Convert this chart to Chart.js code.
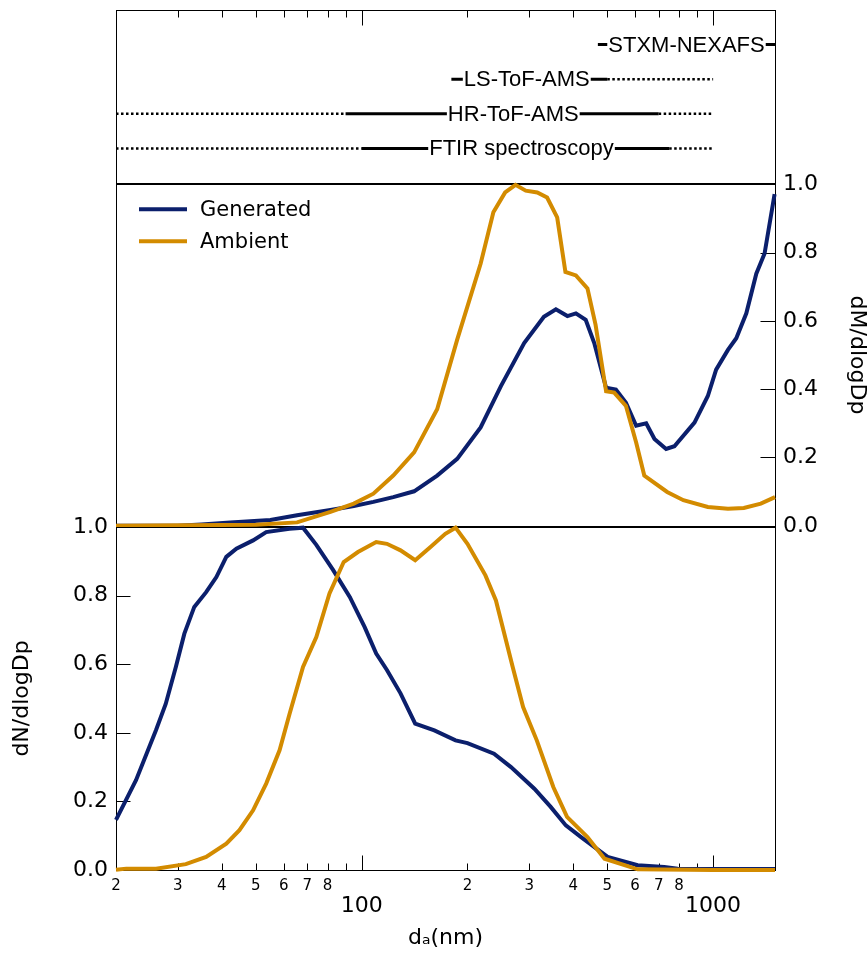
<!DOCTYPE html>
<html>
<head>
<meta charset="utf-8">
<script src="https://cdn.jsdelivr.net/npm/chart.js@4.4.1/dist/chart.umd.min.js"></script>
<style>
  body { margin: 0; background: #fff; }
  #wrap { position: relative; width: 868px; height: 955px; }
  #wrap canvas { position: absolute; left: 0; }
</style>
</head>
<body>
<div id="wrap">
  <canvas id="instChart" width="868" height="190" style="top:0"></canvas>
  <canvas id="massChart" width="868" height="384" style="top:163px"></canvas>
  <canvas id="numChart" width="868" height="450" style="top:505px"></canvas>
</div>
<script>
// x axis (diameter, nm)
const xMin = 20, xMax = 1500;
const xTicks = [20, 30, 40, 50, 60, 70, 80, 90, 100, 200, 300, 400, 500, 600, 700, 800, 900, 1000];
const xTickLabels = ['2', '3', '4', '5', '6', '7', '8', '', '100', '2', '3', '4', '5', '6', '7', '8', '', '1000'];
const yTicks = [0, 0.2, 0.4, 0.6, 0.8, 1.0];

// instrument size ranges (top panel)
const instruments = ['STXM-NEXAFS', 'LS-ToF-AMS', 'HR-ToF-AMS', 'FTIR spectroscopy'];
const instLevel = [4, 3, 2, 1];
const solidRange = [[470, 1500], [180, 500], [90, 700], [100, 750]];
const dottedRange = [[], [[500, 1000]], [[20, 90], [700, 1000]], [[20, 100], [750, 1000]]];
const labelAt = [840, 295, 270, 285];

// dM/dlogDp (middle panel)
const dMGenD = [20, 30, 35, 42.3, 55, 65.5, 81.5, 95, 108, 123, 141, 164, 187, 218, 249, 290, 330, 357, 385, 407, 434, 459, 496, 529, 565, 604, 645, 681, 735, 776, 885, 966, 1020, 1102, 1164, 1243, 1327, 1401, 1496];
const dMGen = [0, 0, 0.004, 0.01, 0.017, 0.031, 0.046, 0.058, 0.07, 0.084, 0.101, 0.147, 0.196, 0.288, 0.409, 0.535, 0.612, 0.634, 0.614, 0.622, 0.603, 0.535, 0.404, 0.399, 0.36, 0.293, 0.3, 0.254, 0.225, 0.233, 0.302, 0.38, 0.457, 0.515, 0.549, 0.622, 0.738, 0.797, 0.971];
const dMAmbD = [20, 50, 65.5, 81.5, 95, 108, 123, 141, 164, 187, 218, 237, 256, 274, 293, 316, 337, 360, 380, 407, 439, 463, 496, 523, 565, 604, 637, 740, 823, 966, 1102, 1223, 1367, 1500];
const dMAmb = [0, 0.003, 0.01, 0.041, 0.065, 0.094, 0.147, 0.215, 0.341, 0.545, 0.767, 0.918, 0.976, 0.998, 0.981, 0.976, 0.961, 0.903, 0.743, 0.733, 0.695, 0.588, 0.394, 0.39, 0.351, 0.244, 0.147, 0.099, 0.075, 0.055, 0.05, 0.052, 0.065, 0.084];

// dN/dlogDp (bottom panel)
const dNGenD = [20, 22.8, 26, 27.7, 29.6, 31.3, 33.4, 36.1, 38.6, 41.2, 44, 49.1, 53.5, 62.3, 68.1, 74.3, 82.9, 92.5, 102, 110, 118, 129, 142, 161, 185, 200, 238, 266, 310, 345, 381, 421, 501, 610, 726, 793, 1000, 1500];
const dNGen = [0.146, 0.262, 0.408, 0.484, 0.592, 0.689, 0.767, 0.81, 0.854, 0.913, 0.937, 0.961, 0.985, 0.995, 0.998, 0.948, 0.875, 0.796, 0.708, 0.631, 0.583, 0.515, 0.427, 0.407, 0.378, 0.37, 0.339, 0.3, 0.237, 0.184, 0.13, 0.096, 0.038, 0.014, 0.009, 0.004, 0.003, 0.003];
const dNAmbD = [20, 21.4, 26, 31.6, 36.1, 41.2, 44.9, 49.1, 53.5, 58.4, 62.4, 68.1, 74.3, 81, 88.9, 97.6, 110, 118, 129, 142, 157, 173, 185, 200, 225, 241, 269, 288, 315, 351, 384, 439, 491, 610, 1000, 1500];
const dNAmb = [0.001, 0.004, 0.004, 0.017, 0.038, 0.077, 0.116, 0.174, 0.252, 0.349, 0.456, 0.592, 0.679, 0.806, 0.898, 0.927, 0.956, 0.951, 0.932, 0.903, 0.942, 0.98, 0.998, 0.951, 0.859, 0.786, 0.592, 0.475, 0.378, 0.242, 0.155, 0.096, 0.033, 0.002, 0, 0];

const navy = '#0b1f6c';
const orange = '#d38b00';
const FONT = 'DejaVu Sans';

Chart.defaults.font.family = FONT;
Chart.defaults.color = '#000';

const isDecade = v => Math.abs(Math.log10(v) - Math.round(Math.log10(v))) < 1e-9;
const pts = (xs, ys) => xs.map((x, i) => ({x: x, y: ys[i]}));

// frame box plus inward tick marks
const frame = {
  id: 'frame',
  beforeDatasetsDraw(chart, args, o) {
    const {ctx, chartArea: a} = chart;
    // same pixel rows/cols for every panel so shared edges overlap exactly
    const L = Math.round(a.left) + 0.5, R = Math.round(a.right) + 0.5;
    const T = Math.round(a.top) + 0.5, B = Math.round(a.bottom) + 0.5;
    ctx.save();
    ctx.strokeStyle = '#000';
    ctx.lineWidth = 1;
    ctx.strokeRect(L, T, R - L, B - T);
    (o.marks || []).forEach(m => {
      const s = chart.scales[m.scale];
      m.values.forEach(v => {
        const p = Math.round(s.getPixelForValue(v)) + 0.5;
        const len = typeof m.len === 'function' ? m.len(v) : m.len;
        ctx.beginPath();
        if (m.edge === 'top') { ctx.moveTo(p, T); ctx.lineTo(p, T + len); }
        if (m.edge === 'bottom') { ctx.moveTo(p, B); ctx.lineTo(p, B - len); }
        if (m.edge === 'left') { ctx.moveTo(L, p); ctx.lineTo(L + len, p); }
        if (m.edge === 'right') { ctx.moveTo(R, p); ctx.lineTo(R - len, p); }
        ctx.stroke();
      });
    });
    ctx.restore();
  }
};

// instrument names sitting on their range lines
const rangeLabels = {
  id: 'rangeLabels',
  afterDatasetsDraw(chart) {
    const {ctx} = chart;
    const xs = chart.scales.x, ys = chart.scales.y;
    ctx.save();
    ctx.font = '22px "Liberation Sans"';
    ctx.textAlign = 'center';
    ctx.textBaseline = 'middle';
    instruments.forEach((name, i) => {
      const x = xs.getPixelForValue(labelAt[i]);
      const y = ys.getPixelForValue(instLevel[i]);
      const w = ctx.measureText(name).width;
      ctx.fillStyle = '#fff';
      ctx.fillRect(x - w / 2 - 1, y - 10, w + 2, 20);
      ctx.fillStyle = '#000';
      ctx.fillText(name, x, y + 1);
    });
    ctx.restore();
  }
};

// legend drawn as line samples in the upper left of the middle panel
const lineLegend = {
  id: 'lineLegend',
  afterDatasetsDraw(chart) {
    const {ctx, chartArea: a} = chart;
    ctx.save();
    ctx.font = '21px "' + FONT + '"';
    ctx.textBaseline = 'middle';
    chart.data.datasets.forEach((ds, i) => {
      const y = a.top + 25 + i * 32;
      ctx.strokeStyle = ds.borderColor;
      ctx.lineWidth = 4;
      ctx.beginPath();
      ctx.moveTo(a.left + 23, y);
      ctx.lineTo(a.left + 71, y);
      ctx.stroke();
      ctx.fillStyle = '#000';
      ctx.fillText(ds.label, a.left + 84, y + 1);
    });
    ctx.restore();
  }
};

const lineStyle = {borderWidth: 4, pointRadius: 0, tension: 0, clip: false, fill: false};
const hiddenX = {type: 'logarithmic', min: xMin, max: xMax, display: false};
const baseOpts = {
  responsive: false,
  animation: false,
  events: [],
};
const noPlugins = {legend: {display: false}, tooltip: {enabled: false}};

// ---- top panel: instrument ranges
const instSets = [];
instruments.forEach((name, i) => {
  instSets.push({
    data: pts(solidRange[i], [instLevel[i], instLevel[i]]),
    borderColor: '#000', borderWidth: 3, pointRadius: 0, clip: false
  });
  dottedRange[i].forEach(r => {
    instSets.push({
      data: pts(r, [instLevel[i], instLevel[i]]),
      borderColor: '#000', borderWidth: 2.5, borderDash: [2.5, 2.5], pointRadius: 0, clip: false
    });
  });
});

new Chart(document.getElementById('instChart'), {
  type: 'line',
  data: {datasets: instSets},
  options: Object.assign({}, baseOpts, {
    layout: {padding: {left: 116, right: 93, top: 10, bottom: 7}},
    scales: {
      x: hiddenX,
      y: {type: 'linear', min: 0, max: 5, display: false}
    },
    plugins: Object.assign({}, noPlugins, {
      frame: {marks: [{scale: 'x', edge: 'top', values: xTicks, len: v => isDecade(v) ? 15 : 7}]}
    })
  }),
  plugins: [frame, rangeLabels]
});

// ---- middle panel: dM/dlogDp
new Chart(document.getElementById('massChart'), {
  type: 'line',
  data: {
    datasets: [
      Object.assign({label: 'Generated', data: pts(dMGenD, dMGen), borderColor: navy, order: 1}, lineStyle),
      Object.assign({label: 'Ambient', data: pts(dMAmbD, dMAmb), borderColor: orange, order: 0}, lineStyle)
    ]
  },
  options: Object.assign({}, baseOpts, {
    layout: {padding: {left: 116, right: 0, top: 20, bottom: 20}},
    scales: {
      x: hiddenX,
      y: {
        type: 'linear', position: 'right', min: 0, max: 1,
        afterBuildTicks: s => { s.ticks = yTicks.map(v => ({value: v})); },
        afterFit: s => { s.width = 93; },
        grid: {display: false, drawTicks: false},
        border: {display: false},
        ticks: {padding: 8, font: {size: 22}, callback: v => v.toFixed(1)},
        title: {display: true, text: 'dM/dlogDp', font: {size: 22, lineHeight: 1}, padding: {top: 0, bottom: 0}}
      }
    },
    plugins: Object.assign({}, noPlugins, {
      frame: {marks: [{scale: 'y', edge: 'right', values: yTicks, len: 15}]}
    })
  }),
  plugins: [frame, lineLegend]
});

// ---- bottom panel: dN/dlogDp
new Chart(document.getElementById('numChart'), {
  type: 'line',
  data: {
    datasets: [
      Object.assign({label: 'Generated', data: pts(dNGenD, dNGen), borderColor: navy, order: 1}, lineStyle),
      Object.assign({label: 'Ambient', data: pts(dNAmbD, dNAmb), borderColor: orange, order: 0}, lineStyle)
    ]
  },
  options: Object.assign({}, baseOpts, {
    layout: {padding: {left: 0, right: 93, top: 22, bottom: 0}},
    scales: {
      x: {
        type: 'logarithmic', position: 'bottom', min: xMin, max: xMax,
        afterBuildTicks: s => { s.ticks = xTicks.map(v => ({value: v, major: isDecade(v)})); },
        afterFit: s => { s.height = 85; },
        grid: {display: false, drawTicks: false},
        border: {display: false},
        ticks: {
          autoSkip: false, maxRotation: 0, minRotation: 0, padding: 7,
          callback: (v, i) => isDecade(xTicks[i]) ? ['', xTickLabels[i]] : xTickLabels[i],
          font: c => (c.tick && c.tick.major) ? {size: 22, lineHeight: 0.9} : {size: 15, lineHeight: 1.2}
        },
        title: {display: true, text: 'dₐ(nm)', font: {size: 22}, padding: {top: 0, bottom: 4}}
      },
      y: {
        type: 'linear', position: 'left', min: 0, max: 1,
        afterBuildTicks: s => { s.ticks = yTicks.map(v => ({value: v})); },
        afterFit: s => { s.width = 116; },
        grid: {display: false, drawTicks: false},
        border: {display: false},
        ticks: {padding: 8, font: {size: 22}, callback: v => v.toFixed(1)},
        title: {display: true, text: 'dN/dlogDp', font: {size: 22}, padding: {top: 9, bottom: 0}}
      }
    },
    plugins: Object.assign({}, noPlugins, {
      frame: {marks: [
        {scale: 'x', edge: 'bottom', values: xTicks, len: v => isDecade(v) ? 15 : 7},
        {scale: 'y', edge: 'left', values: yTicks, len: 14}
      ]}
    })
  }),
  plugins: [frame]
});
</script>
</body>
</html>
